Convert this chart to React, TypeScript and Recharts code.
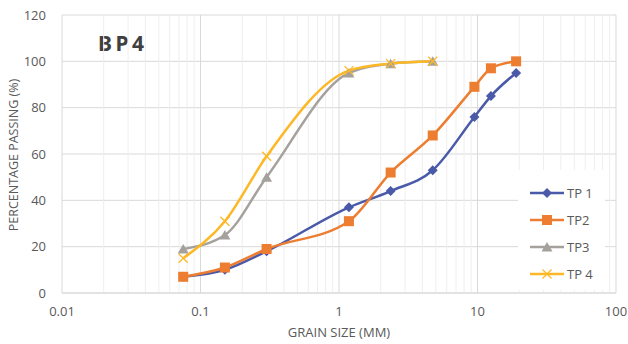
import { LineChart, Line, XAxis, YAxis, CartesianGrid, ReferenceLine } from "recharts";

const sieveSizes = [0.075, 0.15, 0.3, 1.18, 2.36, 4.75, 9.5, 12.5, 19];
const tp1 = [7, 10, 18, 37, 44, 53, 76, 85, 95];
const tp2 = [7, 11, 19, 31, 52, 68, 89, 97, 100];
const tp3 = [19, 25, 50, 95, 99, 100];
const tp4 = [15, 31, 59, 96, 99, 100];

const xTicks = [0.01, 0.1, 1, 10, 100];
const yTicks = [0, 20, 40, 60, 80, 100, 120];
const minorTicks = [0.01, 0.1, 1, 10].flatMap((d) => [2, 3, 4, 5, 6, 7, 8, 9].map((m) => +(d * m).toPrecision(3)));

const toRows = (vals: number[]) => vals.map((v, i) => ({ size: sieveSizes[i], pass: v }));

const series = [
  { name: "TP 1", color: "#4a5aa8", marker: "diamond", data: toRows(tp1) },
  { name: "TP2", color: "#ed7d31", marker: "square", data: toRows(tp2) },
  { name: "TP3", color: "#a5a19d", marker: "triangle", data: toRows(tp3) },
  { name: "TP 4", color: "#fdb827", marker: "x", data: toRows(tp4) },
];

const Marker = ({ kind, cx, cy, color }: { kind: string; cx: number; cy: number; color: string }) => {
  if (kind === "diamond")
    return <polygon points={`${cx},${cy - 5} ${cx + 5},${cy} ${cx},${cy + 5} ${cx - 5},${cy}`} fill={color} />;
  if (kind === "square") return <rect x={cx - 5} y={cy - 5} width={10} height={10} fill={color} />;
  if (kind === "triangle")
    return <polygon points={`${cx},${cy - 5} ${cx + 5.5},${cy + 4.5} ${cx - 5.5},${cy + 4.5}`} fill={color} />;
  return (
    <g stroke={color} strokeWidth={1.3}>
      <line x1={cx - 4.5} y1={cy - 4.5} x2={cx + 4.5} y2={cy + 4.5} />
      <line x1={cx - 4.5} y1={cy + 4.5} x2={cx + 4.5} y2={cy - 4.5} />
    </g>
  );
};

const LegendBox = () => (
  <div style={{ position: "absolute", left: 518, top: 170, width: 87, height: 120, background: "#fff", paddingTop: 9, boxSizing: "border-box" }}>
    {series.map((s) => (
      <div key={s.name} style={{ display: "flex", alignItems: "center", height: 27 }}>
        <svg width={48} height={12}>
          <line x1={12} y1={6} x2={46} y2={6} stroke={s.color} strokeWidth={2.5} />
          <Marker kind={s.marker} cx={29} cy={6} color={s.color} />
        </svg>
        <span style={{ fontSize: 13, color: "#595959", marginLeft: 1 }}>{s.name}</span>
      </div>
    ))}
  </div>
);

export default function App() {
  return (
    <div style={{ position: "absolute", left: 0, top: 0, width: 628, height: 344, background: "#fff", fontFamily: "'Open Sans', sans-serif" }}>
      <LineChart width={628} height={344} margin={{ top: 15, right: 12, bottom: 21, left: 22 }}>
        {minorTicks.map((v) => (
          <ReferenceLine key={v} x={v} stroke="#eeeeee" strokeWidth={1} />
        ))}
        <CartesianGrid stroke="#d9d9d9" />
        <XAxis
          dataKey="size"
          type="number"
          scale="log"
          domain={[0.01, 100]}
          ticks={xTicks}
          allowDuplicatedCategory={false}
          tickFormatter={(v: number) => String(v)}
          tick={{ fill: "#595959", fontSize: 13 }}
          tickLine={false}
          axisLine={{ stroke: "#d9d9d9" }}
          height={30}
          tickMargin={8}
          label={{ value: "GRAIN SIZE (MM)", position: "insideBottom", offset: -14, fill: "#595959", fontSize: 13 }}
        />
        <YAxis
          type="number"
          domain={[0, 120]}
          ticks={yTicks}
          tick={{ fill: "#595959", fontSize: 13 }}
          tickLine={false}
          axisLine={false}
          width={40}
          tickMargin={10}
        />
        {series.map((s) => (
          <Line
            key={s.name}
            data={s.data}
            dataKey="pass"
            name={s.name}
            type="monotone"
            stroke={s.color}
            strokeWidth={2.5}
            isAnimationActive={false}
            dot={(p: any) => <Marker key={`${s.name}-${p.index}`} kind={s.marker} cx={p.cx} cy={p.cy} color={s.color} />}
            activeDot={false}
          />
        ))}
        <text x={18} y={155} transform="rotate(-90 18 155)" textAnchor="middle" fill="#595959" fontSize={12.5}>
          PERCENTAGE PASSING (%)
        </text>
        <text x={98} y={51} fill="#404040" fontSize={21} fontWeight={700} letterSpacing={3.5} fontFamily="'Noto Sans', sans-serif">
          BP4
        </text>
      </LineChart>
      <LegendBox />
    </div>
  );
}
